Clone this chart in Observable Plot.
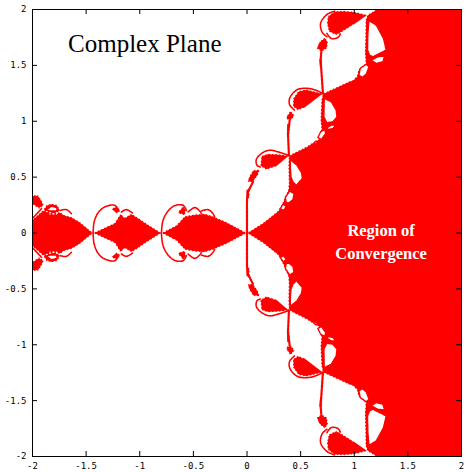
<!DOCTYPE html>
<html><head><meta charset="utf-8">
<script src="https://cdn.jsdelivr.net/npm/d3@7"></script>
<script src="https://cdn.jsdelivr.net/npm/@observablehq/plot@0.6"></script>
<style>html,body{margin:0;padding:0;background:#fff}</style>
</head><body><div id="chart"></div>
<script>
const xTicks=[-2,-1.5,-1,-0.5,0,0.5,1,1.5,2];
const yTicks=[-2,-1.5,-1,-0.5,0,0.5,1,1.5,2];
const mainEdge=[[0,0],[.149,.09],[.289,.197],[.329,.263],[.354,.323],[.385,.388],[.39,.45],[.386,.6],[.391,.693],
 [.553,.771],[.63,.818],[.661,.83],[.677,.875],[.693,.935],[.686,1.01],[.693,1.189],[.708,1.248],
 [.957,1.359],[.988,1.368],[1.025,1.404],[1.04,1.464],[1.106,1.517],[1.099,1.607],[1.106,1.906],[1.121,1.95],
 [1.205,2]];
const mainCorners=[[2,2],[2,0]];
const diamond1=[[-2,.12],[-1.901,.203],[-1.807,.173],[-1.745,.188],[-1.699,.158],[-1.637,.143],[-1.559,.099],[-1.435,0]];
const diamond1Start=[[-2,0]];
const diamond2=[[-1.435,0],[-1.233,.09],[-1.18,.173],[-1.14,.137],[-1.078,.173],[-1.016,.137],[-.938,.084],[-.798,0]];
const diamond3=[[-.798,0],[-.658,.069],[-.581,.149],[-.534,.158],[-.472,.167],[-.394,.173],[-.317,.149],[-.193,.099],[0,0]];
const blobs=[
 [[-2,.338],[-1.947,.338],[-1.916,.293],[-1.894,.248],[-1.938,.218],[-2,.257]],
 [[-1.901,.203],[-1.87,.25],[-1.823,.262],[-1.77,.25],[-1.74,.203],[-1.776,.17],[-1.839,.17]],
 [[-1.264,.218],[-1.217,.239],[-1.186,.203],[-1.211,.173]],
 [[-.643,.188],[-.596,.239],[-.565,.209],[-.581,.158],[-.627,.173]],
 [[1.121,1.95],[1.0,1.98],[.9,1.988],[.817,1.985],[.755,1.941],[.745,1.876],[.764,1.801],[.832,1.771],[.863,1.786],[.988,1.861]],
 [[.677,1.711],[.724,1.75],[.755,1.711],[.745,1.652],[.693,1.622],[.652,1.652]],
 [[.708,1.248],[.553,1.285],[.48,1.27],[.43,1.204],[.429,1.129],[.475,1.099],[.537,1.123]],
 [[.366,1.039],[.404,1.093],[.444,1.054],[.413,1.01],[.376,1.016]],
 [[.391,.693],[.289,.705],[.196,.71],[.134,.69],[.124,.6],[.18,.567],[.273,.597]],
 [[.019,.502],[.056,.562],[.118,.567],[.102,.517],[.056,.457],[.009,.457]],
 [[-.005,.39],[.022,.40],[.025,.32],[-.005,.3]],
 [[.675,1.56],[.70,1.56],[.70,1.49],[.68,1.48]],
 [[.375,.98],[.4,.98],[.395,.88],[.372,.88]]
];
const holes=[
 [[.404,.657],[.466,.606],[.509,.538],[.516,.487],[.46,.427],[.429,.457],[.41,.502],[.404,.591]],
 [[.366,.272],[.357,.317],[.398,.376],[.438,.352],[.429,.299],[.391,.269]],
 [[.311,.218],[.335,.257],[.366,.239],[.342,.203]],
 [[.72,1.206],[.786,1.174],[.832,1.099],[.839,1.039],[.801,.995],[.745,.986],[.717,1.039]],
 [[.745,.941],[.786,.965],[.826,.965],[.801,.935],[.755,.926]],
 [[.661,.854],[.686,.905],[.727,.926],[.733,.89],[.693,.836]],
 [[.615,.795],[.646,.824],[.655,.8]],
 [[1.137,1.9],[1.205,1.861],[1.273,1.741],[1.298,1.637],[1.174,1.577],[1.143,1.592],[1.124,1.637],[1.127,1.786]],
 [[1.158,1.547],[1.22,1.577],[1.283,1.583],[1.267,1.532],[1.205,1.517]],
 [[1.043,1.413],[1.056,1.473],[1.112,1.511],[1.137,1.487],[1.112,1.422],[1.075,1.392]],
 [[-1.87,.209],[-1.823,.239],[-1.77,.227],[-1.776,.197],[-1.839,.197]]
];
const loops=[
 [[-.798,0],[-.783,.113],[-.736,.197],[-.674,.245],[-.596,.248],[-.565,.203]],
 [[-.55,.188],[-.488,.227],[-.441,.197],[-.425,.173]],
 [[-.425,.197],[-.363,.209],[-.317,.173],[-.301,.143]],
 [[-1.435,0],[-1.425,.099],[-1.388,.182],[-1.326,.233],[-1.233,.248],[-1.193,.197]],
 [[-1.171,.188],[-1.124,.209],[-1.068,.179]],
 [[-1.739,.203],[-1.683,.209],[-1.637,.173]],
 [[-1.994,.137],[-1.916,.218]],
 [[.817,1.985],[.745,1.955],[.686,1.876],[.702,1.795],[.745,1.756]],
 [[.745,1.786],[.786,1.741],[.848,1.75],[.87,1.78]],
 [[.708,1.248],[.62,1.285],[.53,1.295],[.46,1.278],[.398,1.207],[.398,1.147],[.444,1.099]],
 [[.391,.693],[.289,.726],[.211,.741],[.134,.711],[.087,.657],[.093,.606],[.124,.591]]
];
const stems=[
 [[.693,1.622],[.686,1.547],[.693,1.458],[.708,1.248]],
 [[.398,1.01],[.391,.95],[.382,.89],[.391,.693]],
 [[.056,.457],[.009,.367],[0,.293],[0,0]]
];
const titleLabel=["Complex Plane"];
const regionLabels=["Region of","Convergence"];

const table=list=>{const rows=[];list.forEach((pts,i)=>{for(const s of [1,-1])for(const [x,y] of pts)rows.push({x,y:y*s,id:i+(s>0?"u":"l")});});return rows;};
const H=472,mT=9,mB=16,inner=H-mT-mB,W=466,mL=32,mR=5,innerW=W-mL-mR;
const fills=[[...mainEdge,...mainCorners],[...diamond1Start,...diamond1],diamond2,diamond3,...blobs];
const fuzzy=[mainEdge,diamond1,diamond2,diamond3,...blobs];
const chart=Plot.plot({
 width:W,height:H,marginLeft:mL,marginRight:mR,marginTop:mT,marginBottom:mB,
 style:{background:"#fff",overflow:"visible"},
 x:{domain:[-2,2]},y:{domain:[-2,2]},
 marks:[
  Plot.line(table(fills),{x:"x",y:"y",z:"id",fill:"#ff0000",stroke:"none",curve:"linear-closed",clip:true}),
  Plot.line(table(fuzzy),{x:"x",y:"y",z:"id",fill:"none",stroke:"#fff",strokeWidth:1.1,strokeDasharray:"1 2.5",curve:"linear",clip:true}),
  Plot.line(table(holes),{x:"x",y:"y",z:"id",fill:"#fff",stroke:"#ff0000",strokeWidth:1.4,strokeDasharray:"1.6 .8",curve:"linear-closed",clip:true}),
  Plot.line(table(loops),{x:"x",y:"y",z:"id",stroke:"#ff0000",strokeWidth:1.6,strokeDasharray:"1.5 .8",curve:"catmull-rom",clip:true}),
  Plot.line(table(stems),{x:"x",y:"y",z:"id",stroke:"#ff0000",strokeWidth:2.2,strokeDasharray:"3 .8",curve:"linear",clip:true}),
  Plot.tickX(xTicks,{x:d=>d,stroke:"#000",insetTop:inner-5}),
  Plot.tickX(xTicks,{x:d=>d,stroke:"#000",insetBottom:inner-5}),
  Plot.tickY(yTicks,{y:d=>d,stroke:"#000",insetRight:innerW-5}),
  Plot.tickY(yTicks,{y:d=>d,stroke:"#000",insetLeft:innerW-5}),
  Plot.frame({stroke:"#000"}),
  Plot.axisX(xTicks,{anchor:"bottom",tickSize:0,tickPadding:6,label:null,fontSize:9,fontFamily:"DejaVu Sans Mono",tickFormat:d=>String(d)}),
  Plot.axisY(yTicks,{anchor:"left",tickSize:0,tickPadding:6,label:null,fontSize:9,fontFamily:"DejaVu Sans Mono",tickFormat:d=>String(d)}),
  Plot.text(titleLabel,{x:[-.953],y:[1.69],text:d=>d,fontFamily:"Liberation Serif",fontSize:25,fill:"#000"}),
  Plot.text(regionLabels,{x:[1.25,1.25],y:[.02,-.185],text:d=>d,fontFamily:"Liberation Serif",fontWeight:"bold",fontSize:16.5,fill:"#fff"})
 ]
});
document.getElementById("chart").appendChild(chart);
</script></body></html>
